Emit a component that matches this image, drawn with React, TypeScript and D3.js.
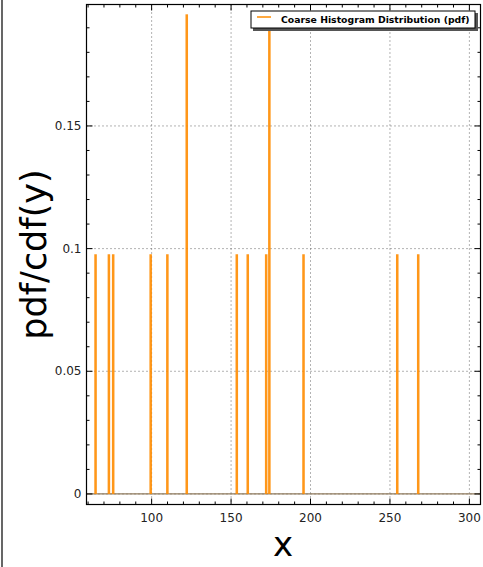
import React from "react";
import * as d3 from "d3";

const binCenters = [64.7, 73.1, 75.8, 99.4, 109.9, 122.1, 153.6, 160.5, 172.1, 174.1, 195.6, 254.6, 267.8];
const pdfValues = [0.0977, 0.0977, 0.0977, 0.0977, 0.0977, 0.1955, 0.0977, 0.0977, 0.0977, 0.1955, 0.0977, 0.0977, 0.0977];
const xTicks = [100, 150, 200, 250, 300];
const yTicks = [0, 0.05, 0.1, 0.15];
const yTickLabels = ["0", "0.05", "0.1", "0.15"];
const legendLabel = "Coarse Histogram Distribution (pdf)";

const W = 483, H = 567;
const L = 86.5, R = 480.5, T = 4.5, B = 504.5;

export default function App() {
  const x = d3.scaleLinear().domain([59, 307]).range([L, R]);
  const y = d3.scaleLinear().domain([-0.0043, 0.1995]).range([B, T]);
  const xMinor = d3.range(60, 307, 10).filter((v) => !xTicks.includes(v));
  const yMinor = d3.range(0, 0.2, 0.01).filter((v) => !yTicks.some((t) => Math.abs(t - v) < 1e-9));
  const binW = 1.6;
  const font = "DejaVu Sans, sans-serif";
  const orange = "#ff8c00";

  return (
    <svg width={W} height={H} style={{ position: "absolute", left: 0, top: 0, background: "#fff" }} fontFamily={font}>
      <rect x={0} y={0} width={W} height={H} fill="#fff" />
      <line x1={2} y1={0} x2={2} y2={H} stroke="#000" strokeWidth={1.2} />
      {/* grid */}
      {xTicks.map((t) => (
        <line key={"gx" + t} x1={x(t)} x2={x(t)} y1={T} y2={B} stroke="#666" strokeDasharray="1,3" strokeWidth={1} />
      ))}
      {yTicks.map((t) => (
        <line key={"gy" + t} x1={L} x2={R} y1={y(t)} y2={y(t)} stroke="#666" strokeDasharray="1,3" strokeWidth={1} />
      ))}
      {/* baseline */}
      <line x1={L} x2={R} y1={y(0)} y2={y(0)} stroke="#8f7a5c" strokeWidth={1.2} />
      {/* bars */}
      {binCenters.map((c, i) => (
        <rect
          key={"b" + i}
          x={x(c - binW / 2)}
          width={x(c + binW / 2) - x(c - binW / 2)}
          y={y(pdfValues[i])}
          height={y(0) - y(pdfValues[i])}
          fill={orange}
          fillOpacity={0.9}
        />
      ))}
      {/* ticks */}
      {xTicks.map((t) => (
        <g key={"tx" + t}>
          <line x1={x(t)} x2={x(t)} y1={B} y2={B - 6} stroke="#000" />
          <line x1={x(t)} x2={x(t)} y1={T} y2={T + 6} stroke="#000" />
          <text x={x(t)} y={B + 17} fontSize={12} textAnchor="middle" fill="#222">{t}</text>
        </g>
      ))}
      {xMinor.map((t) => (
        <g key={"mx" + t}>
          <line x1={x(t)} x2={x(t)} y1={B} y2={B - 3} stroke="#000" />
          <line x1={x(t)} x2={x(t)} y1={T} y2={T + 3} stroke="#000" />
        </g>
      ))}
      {yTicks.map((t, i) => (
        <g key={"ty" + t}>
          <line x1={L} x2={L + 6} y1={y(t)} y2={y(t)} stroke="#000" />
          <line x1={R} x2={R - 6} y1={y(t)} y2={y(t)} stroke="#000" />
          <text x={L - 5} y={y(t) + 4} fontSize={12} textAnchor="end" fill="#222">{yTickLabels[i]}</text>
        </g>
      ))}
      {yMinor.map((t) => (
        <g key={"my" + t}>
          <line x1={L} x2={L + 3} y1={y(t)} y2={y(t)} stroke="#000" />
          <line x1={R} x2={R - 3} y1={y(t)} y2={y(t)} stroke="#000" />
        </g>
      ))}
      {/* frame */}
      <rect x={L} y={T} width={R - L} height={B - T} fill="none" stroke="#000" strokeWidth={1.2} />
      {/* legend */}
      <rect x={253} y={13} width={225} height={18} fill="#555" />
      <rect x={251} y={11} width={224} height={17} fill="#fff" stroke="#000" strokeWidth={1} />
      <line x1={257} x2={271} y1={17} y2={17} stroke={orange} strokeWidth={1.5} />
      <text x={281} y={22.5} fontSize={9.3} fontWeight="bold" fill="#000">{legendLabel}</text>
      {/* axis labels */}
      <text x={283} y={556} fontSize={34} textAnchor="middle" fill="#000">x</text>
      <text transform={`translate(46,${(T + B) / 2}) rotate(-90)`} fontSize={35} textAnchor="middle" fill="#000">pdf/cdf(y)</text>
    </svg>
  );
}
